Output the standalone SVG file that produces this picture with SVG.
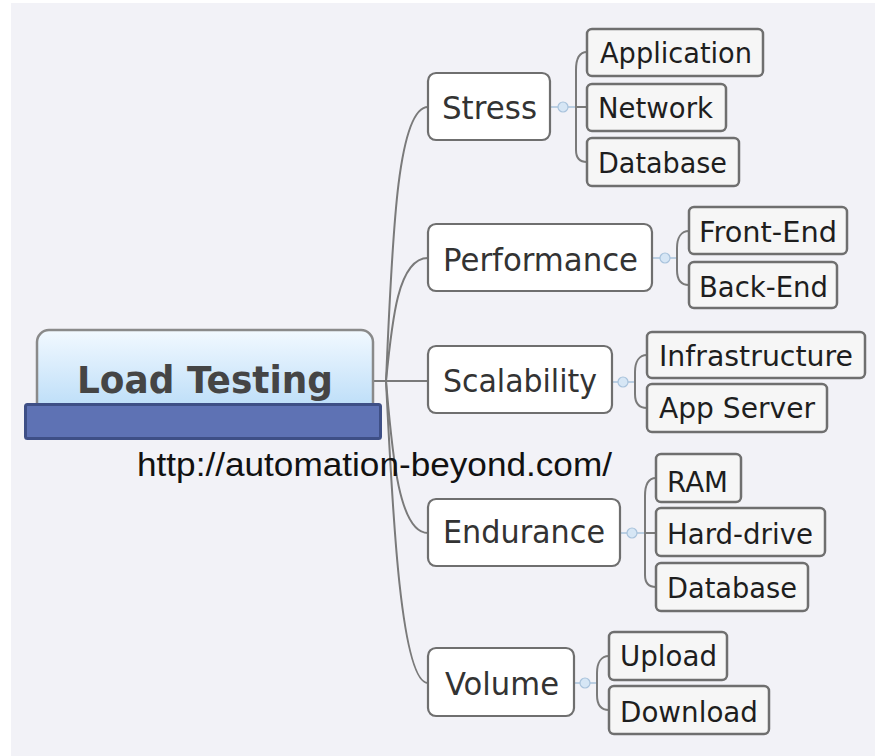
<svg xmlns="http://www.w3.org/2000/svg" width="875" height="756" viewBox="0 0 875 756">
<defs>
<linearGradient id="rootGrad" x1="0" y1="0" x2="0" y2="1">
<stop offset="0" stop-color="#f2f9ff"/>
<stop offset="1" stop-color="#b3d9f7"/>
</linearGradient>
</defs>
<style>
.l1 rect{fill:#ffffff;stroke:#6f6f6f;stroke-width:2.2}
.l1 text{font-family:"DejaVu Sans",Verdana,sans-serif;font-size:32px;fill:#333;text-anchor:middle}
.l2 rect{fill:#f6f6f6;stroke:#6f6f6f;stroke-width:2.5}
.l2 text{font-family:"DejaVu Sans",Verdana,sans-serif;font-size:29px;fill:#1e1e1e;text-anchor:middle}
.conn path{fill:none;stroke:#7a7a7a;stroke-width:2}
.conn circle{fill:#d6e6f5;stroke:#a9c3dc;stroke-width:1.2}
.conn line{stroke:#a9c3dc;stroke-width:1.5}
</style>
<rect x="0" y="0" width="875" height="756" fill="#ffffff"/>
<rect x="11" y="3" width="864" height="753" fill="#f2f2f7"/>

<g id="connectors" class="conn">
<path d="M373 381 H428"/>
<path d="M386 381 C392 250 396 107 428 107"/>
<path d="M386 381 C392 320 398 258 428 258"/>
<path d="M386 381 C392 450 398 533 428 533"/>
<path d="M386 381 C392 500 400 683 428 683"/>

<line x1="550" y1="107" x2="575" y2="107"/>
<circle cx="563" cy="107" r="5"/>
<path d="M575 107 H587"/>
<path d="M587 52 C579 52 576 58 576 70 V150 C576 158 579 162 587 162"/>

<line x1="652" y1="258" x2="677" y2="258"/>
<circle cx="665" cy="258" r="5"/>
<path d="M689 231 C681 231 677 238 677 248 V270 C677 280 681 285 689 285"/>

<line x1="612" y1="382" x2="635" y2="382"/>
<circle cx="623" cy="382" r="5"/>
<path d="M647 355 C639 355 635 362 635 372 V394 C635 404 639 408 647 408"/>

<line x1="620" y1="533" x2="644" y2="533"/>
<circle cx="632" cy="533" r="5"/>
<path d="M644 533 H656"/>
<path d="M656 478 C648 478 645 484 645 496 V575 C645 583 648 587 656 587"/>

<line x1="574" y1="683" x2="597" y2="683"/>
<circle cx="585" cy="683" r="5"/>
<path d="M609 656 C601 656 597 663 597 673 V695 C597 705 601 710 609 710"/>
</g>

<g id="root">
<rect x="37" y="330" width="336" height="92" rx="12" fill="url(#rootGrad)" stroke="#8a8a8a" stroke-width="2.5"/>
<text x="205" y="393" font-family="'DejaVu Sans',Verdana,sans-serif" font-weight="bold" font-size="37" fill="#454545" text-anchor="middle" textLength="256" lengthAdjust="spacingAndGlyphs">Load Testing</text>
<rect x="25.5" y="404.5" width="355" height="34" rx="2" fill="#5e72b4" stroke="#3e4f86" stroke-width="3"/>
</g>

<g id="url">
<text x="137" y="476" font-family="'Liberation Sans',Arial,sans-serif" font-size="33" fill="#111" textLength="475" lengthAdjust="spacingAndGlyphs">http://automation-beyond.com/</text>
</g>

<g id="stress" class="l1"><rect x="428" y="73" width="122" height="67" rx="8"/><text x="489.5" y="119" textLength="95" lengthAdjust="spacingAndGlyphs">Stress</text></g>
<g id="performance" class="l1"><rect x="428" y="224" width="224" height="67" rx="8"/><text x="540.5" y="271" textLength="195" lengthAdjust="spacingAndGlyphs">Performance</text></g>
<g id="scalability" class="l1"><rect x="428" y="346" width="184" height="67" rx="8"/><text x="520" y="392" textLength="154" lengthAdjust="spacingAndGlyphs">Scalability</text></g>
<g id="endurance" class="l1"><rect x="428" y="499" width="192" height="67" rx="8"/><text x="524" y="543" textLength="162" lengthAdjust="spacingAndGlyphs">Endurance</text></g>
<g id="volume" class="l1"><rect x="428" y="648" width="146" height="68" rx="8"/><text x="502" y="695" textLength="114" lengthAdjust="spacingAndGlyphs">Volume</text></g>

<g id="application" class="l2"><rect x="587" y="29" width="176" height="47" rx="5"/><text x="676" y="63" textLength="152" lengthAdjust="spacingAndGlyphs">Application</text></g>
<g id="network" class="l2"><rect x="587" y="84" width="139" height="47" rx="5"/><text x="655.5" y="118" textLength="115" lengthAdjust="spacingAndGlyphs">Network</text></g>
<g id="database1" class="l2"><rect x="587" y="138" width="152" height="48" rx="5"/><text x="662.5" y="173" textLength="129" lengthAdjust="spacingAndGlyphs">Database</text></g>

<g id="frontend" class="l2"><rect x="689" y="207" width="158" height="47" rx="5"/><text x="768" y="242" textLength="138" lengthAdjust="spacingAndGlyphs">Front-End</text></g>
<g id="backend" class="l2"><rect x="689" y="262" width="148" height="46" rx="5"/><text x="763.5" y="297" textLength="129" lengthAdjust="spacingAndGlyphs">Back-End</text></g>

<g id="infrastructure" class="l2"><rect x="647" y="332" width="218" height="46" rx="5"/><text x="756" y="366" textLength="194" lengthAdjust="spacingAndGlyphs">Infrastructure</text></g>
<g id="appserver" class="l2"><rect x="647" y="384" width="180" height="48" rx="5"/><text x="737" y="418" textLength="156" lengthAdjust="spacingAndGlyphs">App Server</text></g>

<g id="ram" class="l2"><rect x="656" y="454" width="85" height="48" rx="5"/><text x="697.5" y="492" textLength="61" lengthAdjust="spacingAndGlyphs">RAM</text></g>
<g id="harddrive" class="l2"><rect x="656" y="508" width="169" height="48" rx="5"/><text x="740" y="544" textLength="146" lengthAdjust="spacingAndGlyphs">Hard-drive</text></g>
<g id="database2" class="l2"><rect x="656" y="563" width="152" height="48" rx="5"/><text x="732" y="598" textLength="130" lengthAdjust="spacingAndGlyphs">Database</text></g>

<g id="upload" class="l2"><rect x="609" y="632" width="118" height="48" rx="5"/><text x="668.5" y="666" textLength="97" lengthAdjust="spacingAndGlyphs">Upload</text></g>
<g id="download" class="l2"><rect x="609" y="686" width="160" height="48" rx="5"/><text x="689" y="722" textLength="138" lengthAdjust="spacingAndGlyphs">Download</text></g>
</svg>
